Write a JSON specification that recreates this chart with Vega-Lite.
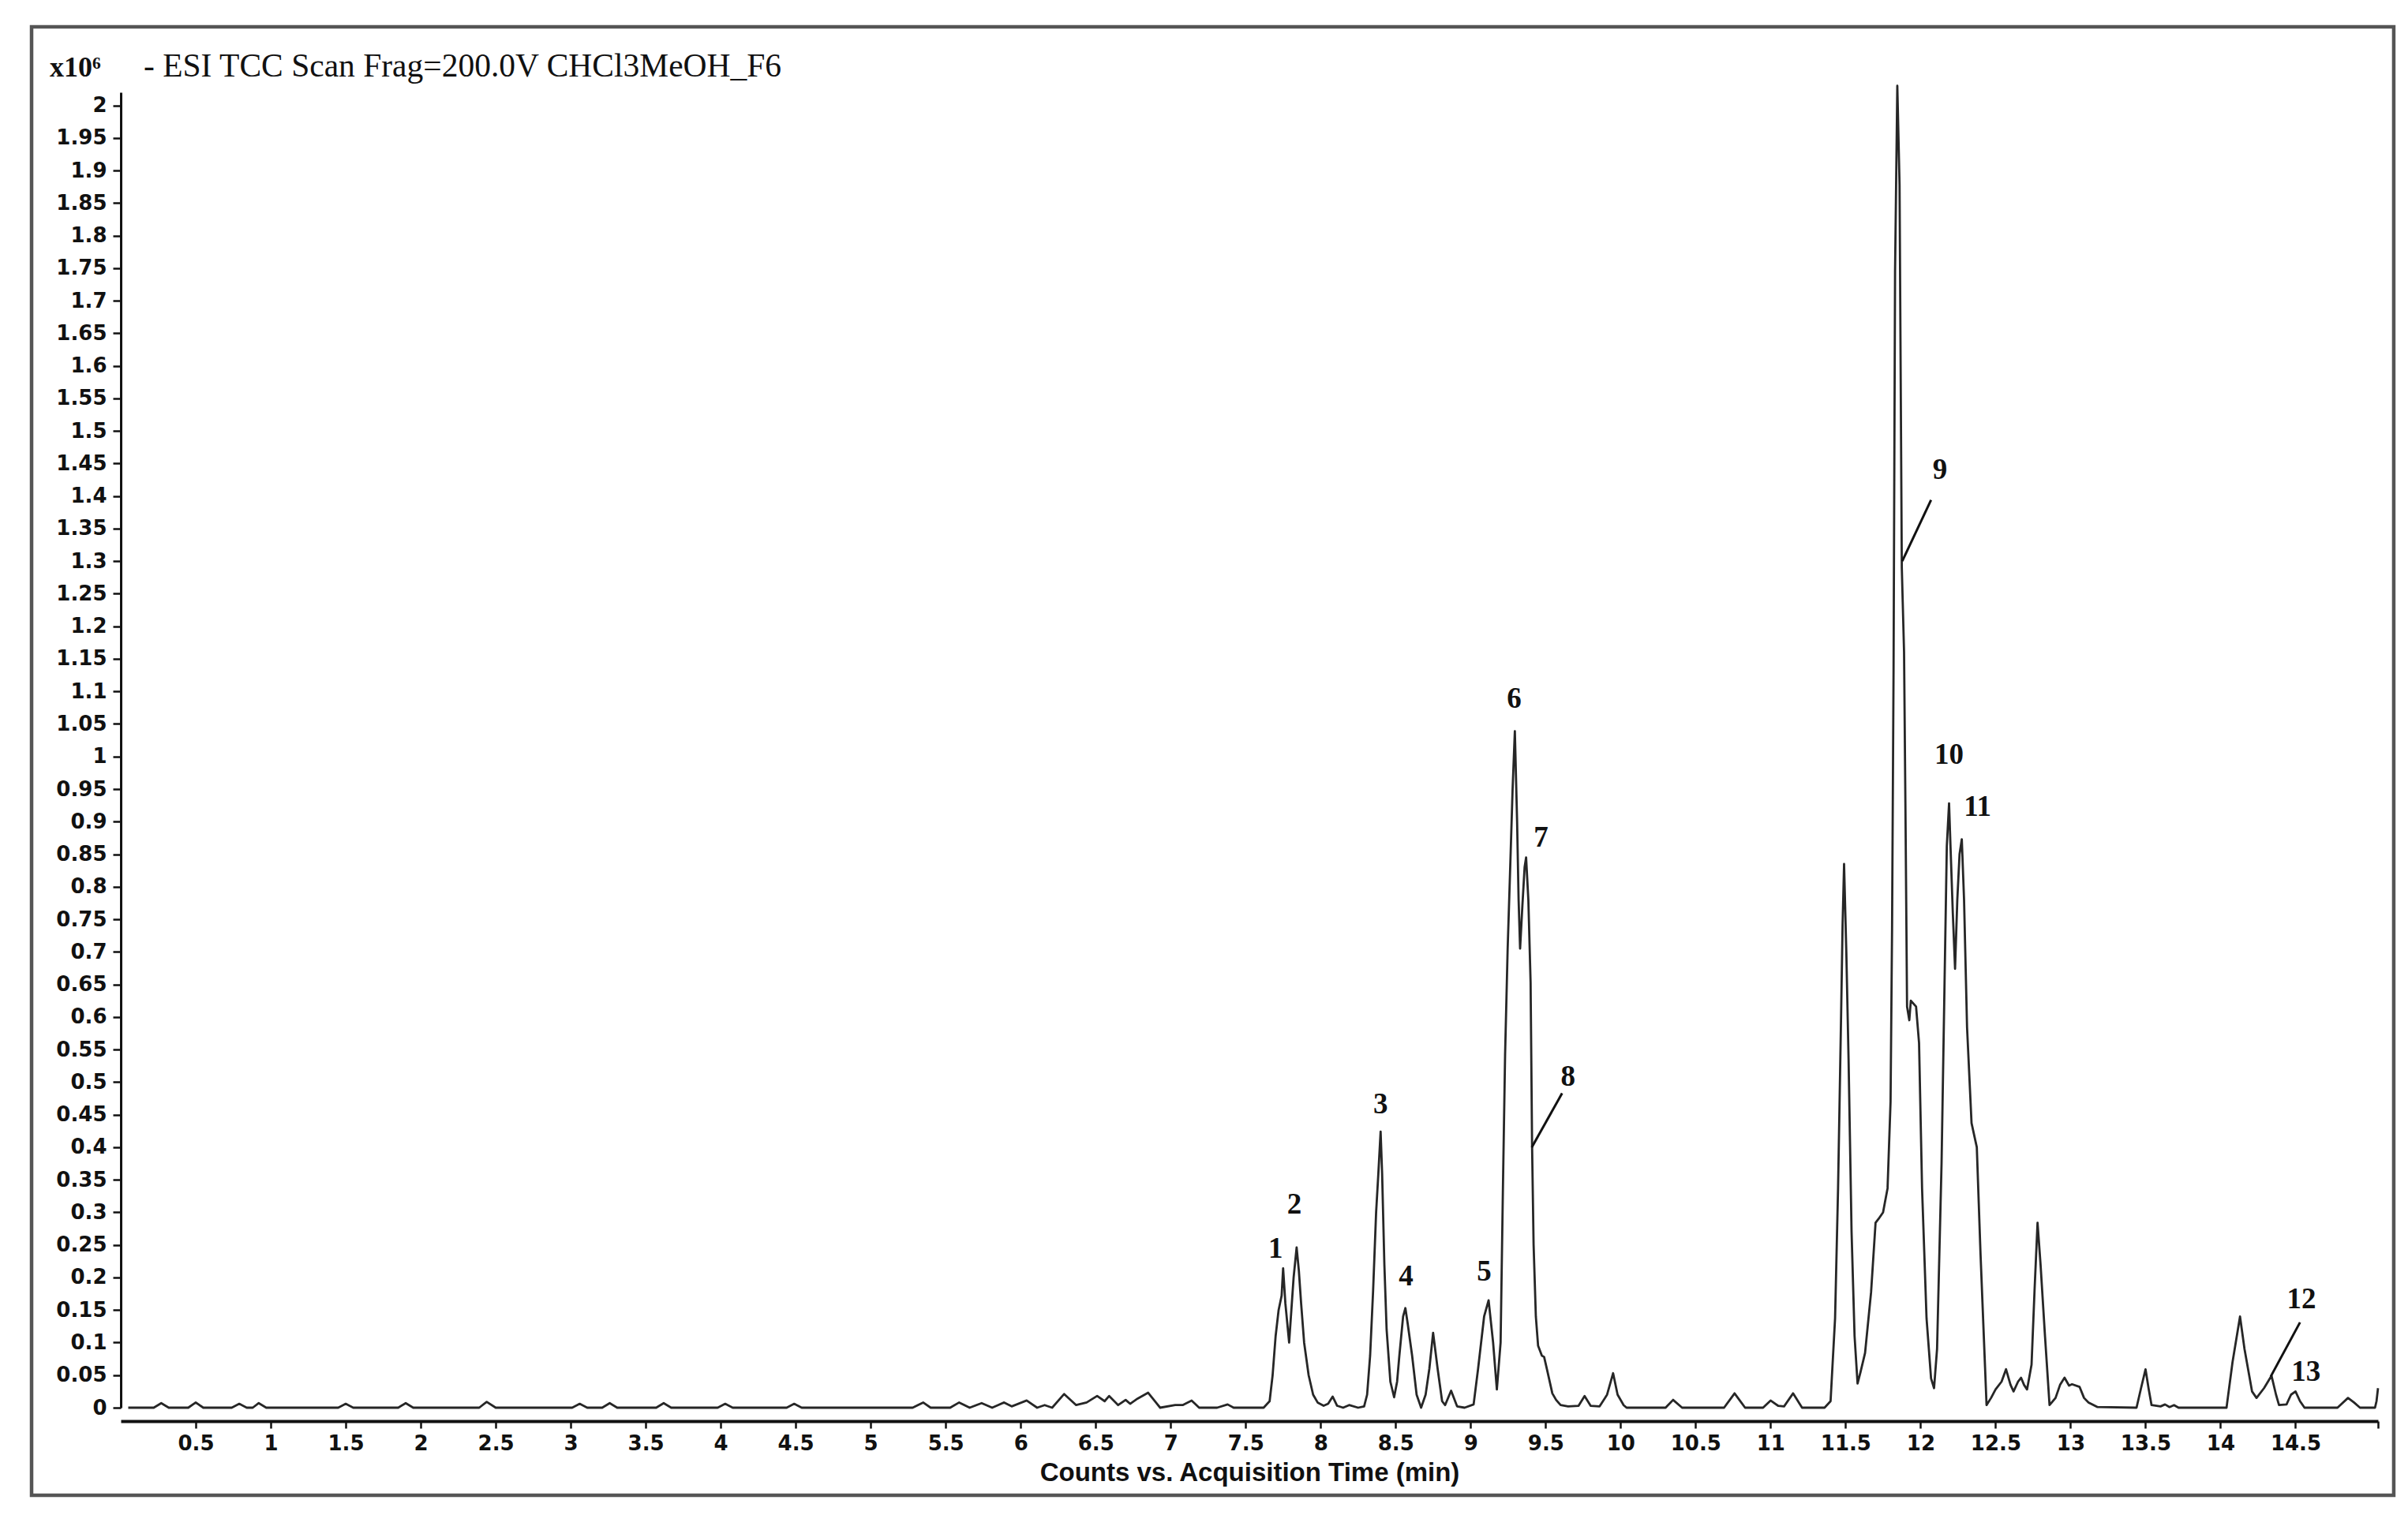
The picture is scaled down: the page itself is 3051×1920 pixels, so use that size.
{
  "$schema": "https://vega.github.io/schema/vega-lite/v6.json",
  "width": 2860,
  "height": 1667,
  "autosize": {"type": "none"},
  "padding": {"left": 153, "top": 117, "right": 38, "bottom": 136},
  "background": "white",
  "config": {
    "view": {"stroke": null},
    "axis": {
      "grid": false,
      "domainColor": "#111111",
      "tickColor": "#111111",
      "labelColor": "#111111",
      "titleColor": "#111111",
      "labelFont": "DejaVu Sans",
      "labelFontWeight": "bold",
      "labelFontSize": 26,
      "labelOverlap": false,
      "labelFlush": false,
      "labelBound": false,
      "tickWidth": 2.5
    }
  },
  "datasets": {
    "trace": [
      {"time": 0.05, "counts": 0}, {"time": 0.22, "counts": 0}, {"time": 0.27, "counts": 0.007}, {"time": 0.32, "counts": 0},
      {"time": 0.45, "counts": 0}, {"time": 0.5, "counts": 0.008}, {"time": 0.55, "counts": 0}, {"time": 0.74, "counts": 0},
      {"time": 0.79, "counts": 0.006}, {"time": 0.84, "counts": 0}, {"time": 0.88, "counts": 0}, {"time": 0.92, "counts": 0.007},
      {"time": 0.97, "counts": 0}, {"time": 1.45, "counts": 0}, {"time": 1.5, "counts": 0.006}, {"time": 1.55, "counts": 0},
      {"time": 1.85, "counts": 0}, {"time": 1.9, "counts": 0.007}, {"time": 1.95, "counts": 0}, {"time": 2.39, "counts": 0},
      {"time": 2.44, "counts": 0.009}, {"time": 2.5, "counts": 0}, {"time": 3.01, "counts": 0}, {"time": 3.06, "counts": 0.006},
      {"time": 3.11, "counts": 0}, {"time": 3.21, "counts": 0}, {"time": 3.26, "counts": 0.007}, {"time": 3.31, "counts": 0},
      {"time": 3.57, "counts": 0}, {"time": 3.62, "counts": 0.007}, {"time": 3.67, "counts": 0}, {"time": 3.98, "counts": 0},
      {"time": 4.03, "counts": 0.006}, {"time": 4.08, "counts": 0}, {"time": 4.44, "counts": 0}, {"time": 4.49, "counts": 0.006},
      {"time": 4.54, "counts": 0}, {"time": 5.28, "counts": 0}, {"time": 5.35, "counts": 0.008}, {"time": 5.4, "counts": 0},
      {"time": 5.53, "counts": 0}, {"time": 5.59, "counts": 0.008}, {"time": 5.66, "counts": 0}, {"time": 5.74, "counts": 0.007},
      {"time": 5.81, "counts": 0}, {"time": 5.89, "counts": 0.008}, {"time": 5.94, "counts": 0.002}, {"time": 6.04, "counts": 0.011},
      {"time": 6.11, "counts": 0}, {"time": 6.16, "counts": 0.004}, {"time": 6.21, "counts": 0}, {"time": 6.29, "counts": 0.021},
      {"time": 6.37, "counts": 0.004}, {"time": 6.44, "counts": 0.008}, {"time": 6.51, "counts": 0.018}, {"time": 6.56, "counts": 0.01},
      {"time": 6.59, "counts": 0.018}, {"time": 6.65, "counts": 0.004}, {"time": 6.7, "counts": 0.012}, {"time": 6.73, "counts": 0.006},
      {"time": 6.78, "counts": 0.014}, {"time": 6.85, "counts": 0.023}, {"time": 6.93, "counts": 0}, {"time": 7.03, "counts": 0.004},
      {"time": 7.08, "counts": 0.004}, {"time": 7.14, "counts": 0.011}, {"time": 7.19, "counts": 0}, {"time": 7.31, "counts": 0},
      {"time": 7.38, "counts": 0.005}, {"time": 7.42, "counts": 0}, {"time": 7.62, "counts": 0}, {"time": 7.66, "counts": 0.01},
      {"time": 7.68, "counts": 0.05}, {"time": 7.7, "counts": 0.11}, {"time": 7.72, "counts": 0.15}, {"time": 7.74, "counts": 0.172},
      {"time": 7.75, "counts": 0.214}, {"time": 7.765, "counts": 0.16}, {"time": 7.79, "counts": 0.1}, {"time": 7.805, "counts": 0.15},
      {"time": 7.82, "counts": 0.2}, {"time": 7.84, "counts": 0.246}, {"time": 7.855, "counts": 0.21}, {"time": 7.87, "counts": 0.16},
      {"time": 7.89, "counts": 0.1}, {"time": 7.92, "counts": 0.05}, {"time": 7.95, "counts": 0.02}, {"time": 7.98, "counts": 0.008},
      {"time": 8.02, "counts": 0.003}, {"time": 8.05, "counts": 0.006}, {"time": 8.08, "counts": 0.017}, {"time": 8.11, "counts": 0.003},
      {"time": 8.15, "counts": 0}, {"time": 8.19, "counts": 0.004}, {"time": 8.25, "counts": 0}, {"time": 8.29, "counts": 0.002},
      {"time": 8.31, "counts": 0.02}, {"time": 8.33, "counts": 0.08}, {"time": 8.35, "counts": 0.18}, {"time": 8.37, "counts": 0.3},
      {"time": 8.385, "counts": 0.36}, {"time": 8.4, "counts": 0.424}, {"time": 8.41, "counts": 0.36}, {"time": 8.425, "counts": 0.22},
      {"time": 8.44, "counts": 0.12}, {"time": 8.465, "counts": 0.04}, {"time": 8.49, "counts": 0.016}, {"time": 8.51, "counts": 0.04},
      {"time": 8.525, "counts": 0.08}, {"time": 8.55, "counts": 0.14}, {"time": 8.565, "counts": 0.153}, {"time": 8.58, "counts": 0.13},
      {"time": 8.61, "counts": 0.08}, {"time": 8.64, "counts": 0.02}, {"time": 8.67, "counts": 0}, {"time": 8.7, "counts": 0.02},
      {"time": 8.725, "counts": 0.06}, {"time": 8.75, "counts": 0.115}, {"time": 8.78, "counts": 0.06}, {"time": 8.81, "counts": 0.01},
      {"time": 8.83, "counts": 0.004}, {"time": 8.87, "counts": 0.026}, {"time": 8.91, "counts": 0.002}, {"time": 8.96, "counts": 0},
      {"time": 9.02, "counts": 0.005}, {"time": 9.05, "counts": 0.06}, {"time": 9.09, "counts": 0.14}, {"time": 9.12, "counts": 0.165},
      {"time": 9.15, "counts": 0.1}, {"time": 9.175, "counts": 0.028}, {"time": 9.2, "counts": 0.1}, {"time": 9.215, "counts": 0.33},
      {"time": 9.23, "counts": 0.543}, {"time": 9.247, "counts": 0.705}, {"time": 9.265, "counts": 0.837}, {"time": 9.28, "counts": 0.95},
      {"time": 9.295, "counts": 1.039}, {"time": 9.31, "counts": 0.9}, {"time": 9.32, "counts": 0.78}, {"time": 9.33, "counts": 0.705},
      {"time": 9.345, "counts": 0.77}, {"time": 9.36, "counts": 0.83}, {"time": 9.37, "counts": 0.845}, {"time": 9.385, "counts": 0.78},
      {"time": 9.4, "counts": 0.653}, {"time": 9.41, "counts": 0.4}, {"time": 9.42, "counts": 0.25}, {"time": 9.435, "counts": 0.14},
      {"time": 9.45, "counts": 0.095}, {"time": 9.475, "counts": 0.08}, {"time": 9.49, "counts": 0.078}, {"time": 9.51, "counts": 0.058},
      {"time": 9.545, "counts": 0.022}, {"time": 9.57, "counts": 0.012}, {"time": 9.6, "counts": 0.004}, {"time": 9.65, "counts": 0.002},
      {"time": 9.72, "counts": 0.003}, {"time": 9.76, "counts": 0.018}, {"time": 9.8, "counts": 0.003}, {"time": 9.86, "counts": 0.002},
      {"time": 9.91, "counts": 0.02}, {"time": 9.95, "counts": 0.053}, {"time": 9.98, "counts": 0.02}, {"time": 10.02, "counts": 0.004},
      {"time": 10.04, "counts": 0}, {"time": 10.3, "counts": 0}, {"time": 10.35, "counts": 0.012}, {"time": 10.41, "counts": 0},
      {"time": 10.69, "counts": 0}, {"time": 10.76, "counts": 0.022}, {"time": 10.83, "counts": 0}, {"time": 10.95, "counts": 0},
      {"time": 11.0, "counts": 0.011}, {"time": 11.05, "counts": 0.003}, {"time": 11.09, "counts": 0.002}, {"time": 11.15, "counts": 0.022},
      {"time": 11.21, "counts": 0}, {"time": 11.36, "counts": 0}, {"time": 11.4, "counts": 0.01}, {"time": 11.43, "counts": 0.137},
      {"time": 11.45, "counts": 0.337}, {"time": 11.47, "counts": 0.6}, {"time": 11.48, "counts": 0.74}, {"time": 11.49, "counts": 0.835},
      {"time": 11.505, "counts": 0.7}, {"time": 11.52, "counts": 0.535}, {"time": 11.54, "counts": 0.27}, {"time": 11.56, "counts": 0.11},
      {"time": 11.58, "counts": 0.037}, {"time": 11.6, "counts": 0.055}, {"time": 11.63, "counts": 0.084}, {"time": 11.67, "counts": 0.177},
      {"time": 11.7, "counts": 0.284}, {"time": 11.72, "counts": 0.29}, {"time": 11.75, "counts": 0.3}, {"time": 11.78, "counts": 0.337},
      {"time": 11.8, "counts": 0.47}, {"time": 11.81, "counts": 0.735}, {"time": 11.82, "counts": 1.134}, {"time": 11.83, "counts": 1.745},
      {"time": 11.845, "counts": 2.03}, {"time": 11.86, "counts": 1.878}, {"time": 11.875, "counts": 1.29}, {"time": 11.89, "counts": 1.16},
      {"time": 11.9, "counts": 0.9}, {"time": 11.91, "counts": 0.616}, {"time": 11.925, "counts": 0.595}, {"time": 11.935, "counts": 0.625},
      {"time": 11.97, "counts": 0.616}, {"time": 11.99, "counts": 0.56}, {"time": 12.01, "counts": 0.337}, {"time": 12.04, "counts": 0.137},
      {"time": 12.07, "counts": 0.045}, {"time": 12.09, "counts": 0.03}, {"time": 12.11, "counts": 0.09}, {"time": 12.14, "counts": 0.375},
      {"time": 12.16, "counts": 0.653}, {"time": 12.175, "counts": 0.862}, {"time": 12.19, "counts": 0.928}, {"time": 12.2, "counts": 0.86},
      {"time": 12.215, "counts": 0.76}, {"time": 12.23, "counts": 0.674}, {"time": 12.245, "counts": 0.78}, {"time": 12.26, "counts": 0.85},
      {"time": 12.275, "counts": 0.873}, {"time": 12.29, "counts": 0.78}, {"time": 12.31, "counts": 0.584}, {"time": 12.34, "counts": 0.437},
      {"time": 12.375, "counts": 0.4}, {"time": 12.4, "counts": 0.235}, {"time": 12.43, "counts": 0.062}, {"time": 12.44, "counts": 0.004},
      {"time": 12.47, "counts": 0.015}, {"time": 12.5, "counts": 0.028}, {"time": 12.54, "counts": 0.04}, {"time": 12.57, "counts": 0.059},
      {"time": 12.6, "counts": 0.035}, {"time": 12.62, "counts": 0.025}, {"time": 12.65, "counts": 0.04}, {"time": 12.67, "counts": 0.046},
      {"time": 12.69, "counts": 0.035}, {"time": 12.71, "counts": 0.028}, {"time": 12.74, "counts": 0.066}, {"time": 12.76, "counts": 0.18},
      {"time": 12.78, "counts": 0.284}, {"time": 12.8, "counts": 0.22}, {"time": 12.83, "counts": 0.109}, {"time": 12.86, "counts": 0.004},
      {"time": 12.9, "counts": 0.015}, {"time": 12.93, "counts": 0.035}, {"time": 12.96, "counts": 0.046}, {"time": 12.99, "counts": 0.034},
      {"time": 13.01, "counts": 0.036}, {"time": 13.06, "counts": 0.032}, {"time": 13.09, "counts": 0.015}, {"time": 13.12, "counts": 0.008},
      {"time": 13.18, "counts": 0.001}, {"time": 13.44, "counts": 0}, {"time": 13.47, "counts": 0.03}, {"time": 13.5, "counts": 0.059},
      {"time": 13.52, "counts": 0.03}, {"time": 13.54, "counts": 0.004}, {"time": 13.6, "counts": 0.002}, {"time": 13.63, "counts": 0.005},
      {"time": 13.66, "counts": 0.001}, {"time": 13.69, "counts": 0.004}, {"time": 13.72, "counts": 0}, {"time": 14.04, "counts": 0},
      {"time": 14.08, "counts": 0.07}, {"time": 14.13, "counts": 0.14}, {"time": 14.16, "counts": 0.09}, {"time": 14.21, "counts": 0.025},
      {"time": 14.24, "counts": 0.015}, {"time": 14.29, "counts": 0.03}, {"time": 14.34, "counts": 0.049}, {"time": 14.37, "counts": 0.02},
      {"time": 14.39, "counts": 0.004}, {"time": 14.44, "counts": 0.005}, {"time": 14.47, "counts": 0.02}, {"time": 14.5, "counts": 0.025},
      {"time": 14.53, "counts": 0.01}, {"time": 14.56, "counts": 0}, {"time": 14.78, "counts": 0}, {"time": 14.85, "counts": 0.015},
      {"time": 14.89, "counts": 0.008}, {"time": 14.93, "counts": 0}, {"time": 15.03, "counts": 0}, {"time": 15.04, "counts": 0.01},
      {"time": 15.05, "counts": 0.03}
    ],
    "labels": [
      {"time": 7.7, "counts": 0.243, "label": "1"},
      {"time": 7.825, "counts": 0.312, "label": "2"},
      {"time": 8.4, "counts": 0.465, "label": "3"},
      {"time": 8.57, "counts": 0.201, "label": "4"},
      {"time": 9.09, "counts": 0.209, "label": "5"},
      {"time": 9.29, "counts": 1.088, "label": "6"},
      {"time": 9.47, "counts": 0.875, "label": "7"},
      {"time": 9.65, "counts": 0.508, "label": "8"},
      {"time": 12.13, "counts": 1.44, "label": "9"},
      {"time": 12.19, "counts": 1.002, "label": "10"},
      {"time": 12.38, "counts": 0.922, "label": "11"},
      {"time": 14.54, "counts": 0.166, "label": "12"},
      {"time": 14.57, "counts": 0.055, "label": "13"}
    ],
    "leaders": [
      {"time": 9.408, "counts": 0.4, "time2": 9.61, "counts2": 0.483},
      {"time": 11.878, "counts": 1.3, "time2": 12.07, "counts2": 1.394},
      {"time": 14.335, "counts": 0.048, "time2": 14.53, "counts2": 0.131}
    ],
    "one": [{}]
  },
  "layer": [
    {
      "data": {"name": "trace"},
      "mark": {"type": "line", "color": "#262626", "strokeWidth": 2.8, "strokeJoin": "round"},
      "encoding": {
        "x": {
          "field": "time", "type": "quantitative",
          "scale": {"domain": [0, 15.05], "nice": false, "zero": false},
          "axis": {
            "title": "Counts vs. Acquisition Time (min)",
            "titleFont": "Liberation Sans", "titleFontWeight": "bold", "titleFontSize": 33, "titlePadding": 8,
            "values": [0.5, 1, 1.5, 2, 2.5, 3, 3.5, 4, 4.5, 5, 5.5, 6, 6.5, 7, 7.5, 8, 8.5, 9, 9.5, 10, 10.5, 11, 11.5, 12, 12.5, 13, 13.5, 14, 14.5, 15.05],
            "format": "~g",
            "labelExpr": "datum.value > 15 ? '' : datum.label",
            "offset": 17, "tickSize": 9, "labelPadding": 6, "domainWidth": 4
          }
        },
        "y": {
          "field": "counts", "type": "quantitative",
          "scale": {"domain": [0, 2.02], "nice": false, "zero": false},
          "axis": {
            "title": "",
            "values": [0, 0.05, 0.1, 0.15, 0.2, 0.25, 0.3, 0.35, 0.4, 0.45, 0.5, 0.55, 0.6, 0.65, 0.7, 0.75, 0.8, 0.85, 0.9, 0.95, 1, 1.05, 1.1, 1.15, 1.2, 1.25, 1.3, 1.35, 1.4, 1.45, 1.5, 1.55, 1.6, 1.65, 1.7, 1.75, 1.8, 1.85, 1.9, 1.95, 2],
            "format": "~g",
            "tickSize": 10, "labelPadding": 8, "domainWidth": 3
          }
        }
      }
    },
    {
      "data": {"name": "one"},
      "mark": {"type": "rect", "fill": null, "stroke": "#555555", "strokeWidth": 4.5},
      "encoding": {
        "x": {"datum": -0.5946, "type": "quantitative"},
        "x2": {"datum": 15.155},
        "y": {"datum": 2.1207, "type": "quantitative"},
        "y2": {"datum": -0.1345}
      }
    },
    {
      "data": {"name": "leaders"},
      "mark": {"type": "rule", "color": "#111111", "strokeWidth": 3},
      "encoding": {
        "x": {"field": "time", "type": "quantitative"},
        "x2": {"field": "time2"},
        "y": {"field": "counts", "type": "quantitative"},
        "y2": {"field": "counts2"}
      }
    },
    {
      "data": {"name": "labels"},
      "mark": {"type": "text", "font": "Liberation Serif", "fontWeight": "bold", "fontSize": 37, "color": "#111111", "align": "center", "baseline": "middle"},
      "encoding": {
        "x": {"field": "time", "type": "quantitative"},
        "y": {"field": "counts", "type": "quantitative"},
        "text": {"field": "label"}
      }
    },
    {
      "data": {"name": "one"},
      "mark": {"type": "text", "font": "Liberation Serif", "fontWeight": "bold", "fontSize": 36, "color": "#111111", "align": "left", "baseline": "alphabetic"},
      "encoding": {
        "x": {"datum": -0.4736, "type": "quantitative"},
        "y": {"datum": 2.0443, "type": "quantitative"},
        "text": {"value": "x10⁶"}
      }
    },
    {
      "data": {"name": "one"},
      "mark": {"type": "text", "font": "Liberation Serif", "fontSize": 41.5, "color": "#111111", "align": "left", "baseline": "alphabetic"},
      "encoding": {
        "x": {"datum": 0.1526, "type": "quantitative"},
        "y": {"datum": 2.0443, "type": "quantitative"},
        "text": {"value": "- ESI TCC Scan Frag=200.0V CHCl3MeOH_F6"}
      }
    }
  ]
}
